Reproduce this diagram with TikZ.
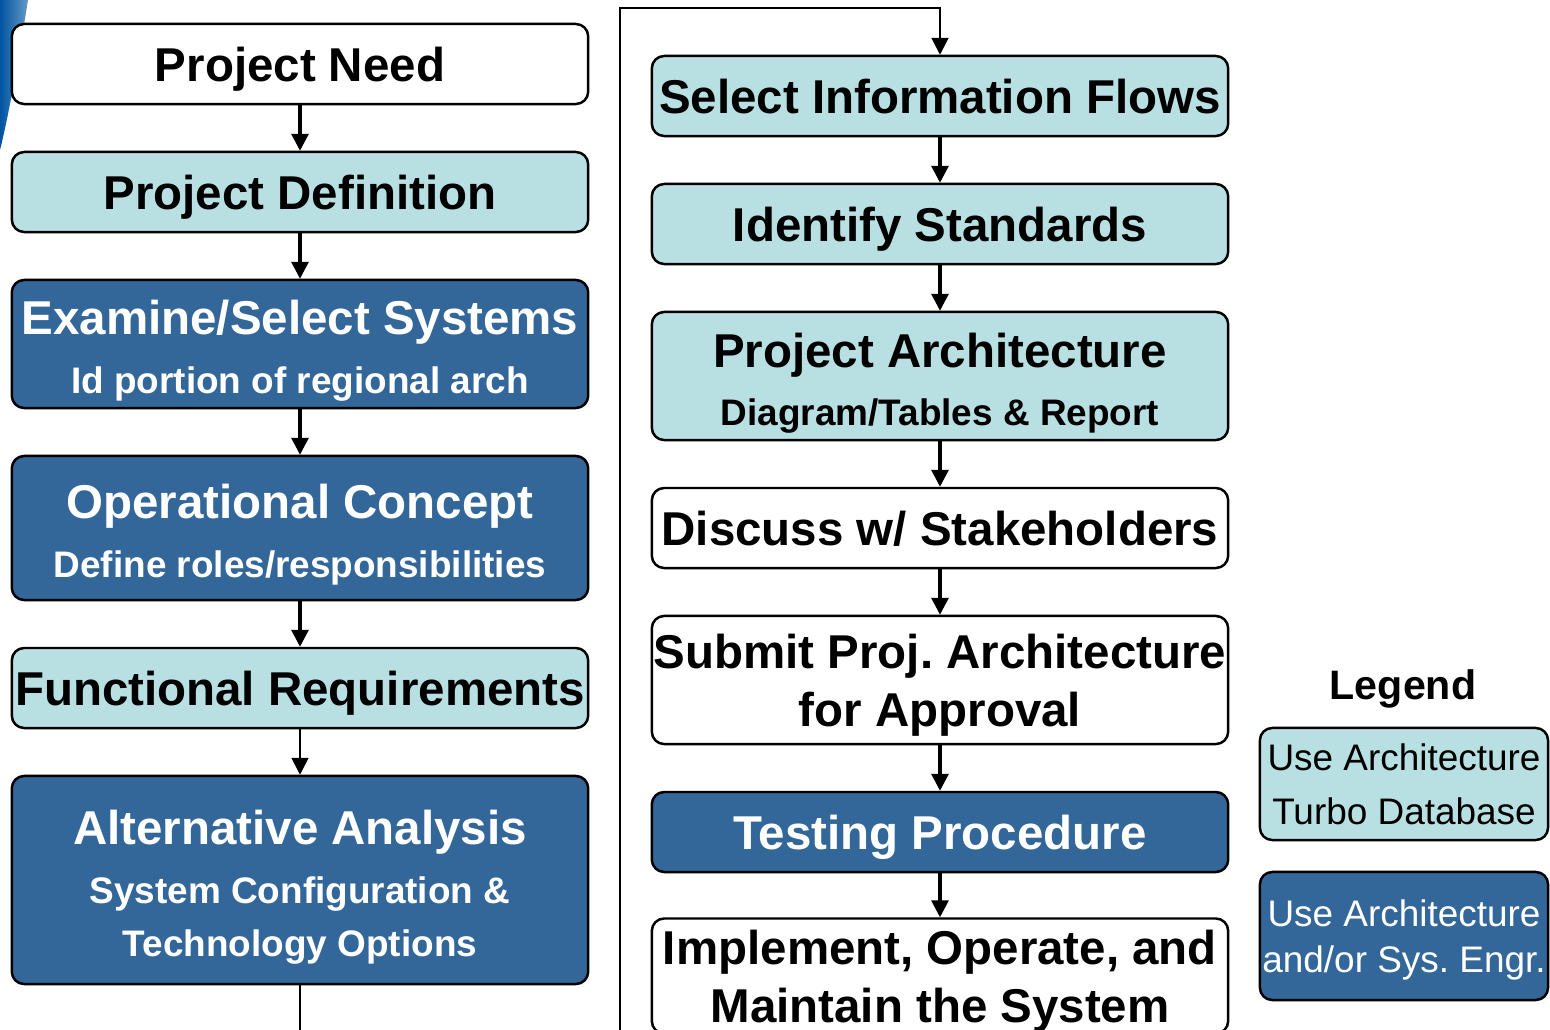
\documentclass[tikz,border=0pt]{standalone}
\usepackage{fontspec}
\setmainfont{Liberation Sans}
\usetikzlibrary{arrows.meta}
\definecolor{lightbox}{RGB}{184,224,226}
\definecolor{darkbox}{RGB}{52,103,153}
\definecolor{swoosh}{RGB}{0,84,160}
\frenchspacing

\begin{document}
\begin{tikzpicture}[x=0.01cm,y=-0.01cm]
        \tikzset{box/.style = {draw, line width=0.7pt, rounded corners=3.5pt, minimum width=5.76cm, inner sep=0pt, align=center, font=\bfseries\fontsize{13.5}{16.5}\selectfont,
            execute at begin node={\rule{0pt}{13.2pt}}, execute at end node={\rule[-3pt]{0pt}{0pt}}}}
        \tikzset{twolevel/.style = {font=\bfseries\fontsize{13.5}{16.8}\selectfont}}
        \tikzset{plainbox/.style = {box, fill=white}}
        \tikzset{lightstep/.style = {box, fill=lightbox}}
        \tikzset{darkstep/.style = {box, fill=darkbox, text=white}}
        \tikzset{legbox/.style = {draw, line width=0.7pt, rounded corners=3.5pt, minimum width=2.88cm, inner sep=0pt, align=center}}
        \tikzset{edge/.style = {-{Triangle[length=4.8pt,width=4.8pt]}, line width=0.9pt}}
        \tikzset{backline/.style = {-{Triangle[length=4.8pt,width=4.8pt]}, line width=0.6pt}}
        \newcommand{\subtxt}[1]{{\fontsize{10.5}{12}\selectfont #1}}
        \newcommand{\topstrut}[1]{\rule{0pt}{#1}}
        \newcommand{\botstrut}{\rule[-3pt]{0pt}{0pt}}
        \useasboundingbox (0,0) rectangle (1550,1030);
        \clip (0,0) rectangle (1550,1030);
        % corner swoosh
        \shade[left color=swoosh, right color=swoosh!60] (0,0) -- (28,0) .. controls (20,50) and (10,110) .. (0,150) -- cycle;
        % left column
        \node[plainbox, minimum height=0.8cm] (need) at (300,64) {Project Need};
        \node[lightstep, minimum height=0.8cm] (def) at (300,192) {Project Definition};
        \node[darkstep, twolevel, minimum height=1.28cm] (exam) at (300,344) {\topstrut{14.5pt}Examine/Select Systems\\\subtxt{Id portion of regional arch}\botstrut};
        \node[darkstep, twolevel, minimum height=1.44cm] (opcon) at (300,528) {\topstrut{14.5pt}Operational Concept\\\subtxt{Define roles/responsibilities}\botstrut};
        \node[lightstep, minimum height=0.8cm] (func) at (300,688) {Functional Requirements};
        \node[darkstep, twolevel, minimum height=2.08cm, font=\bfseries\fontsize{13.5}{15.1}\selectfont] (alt) at (300,880) {\topstrut{14.5pt}Alternative Analysis\\[1.7pt]\subtxt{System Configuration \&}\\\subtxt{Technology Options}\botstrut};
        % right column
        \node[lightstep, minimum height=0.8cm] (flows) at (940,96) {Select Information Flows};
        \node[lightstep, minimum height=0.8cm] (stds) at (940,224) {Identify Standards};
        \node[lightstep, twolevel, minimum height=1.28cm, font=\bfseries\fontsize{13.5}{16.5}\selectfont] (parch) at (940,376) {\topstrut{14.5pt}Project Architecture\\\subtxt{Diagram/Tables \& Report}\botstrut};
        \node[plainbox, minimum height=0.8cm] (disc) at (940,528) {Discuss w/ Stakeholders};
        \node[plainbox, minimum height=1.28cm] (submit) at (940,680) {\topstrut{13.2pt}Submit Proj. Architecture\\for Approval\botstrut};
        \node[darkstep, minimum height=0.8cm] (test) at (940,832) {Testing Procedure};
        \node[plainbox, minimum height=1.12cm] (impl) at (940,976) {\topstrut{13.2pt}Implement, Operate, and\\Maintain the System\botstrut};
        % legend
        \node[font=\bfseries\fontsize{11.7}{14}\selectfont] (legtitle) at (1403,689) {Legend};
        \node[legbox, fill=lightbox, minimum height=1.12cm, font=\fontsize{10.5}{15.4}\selectfont] (leglight) at (1404,784) {Use Architecture\\Turbo Database};
        \node[legbox, fill=darkbox, text=white, minimum height=1.28cm, font=\fontsize{10.5}{13}\selectfont] (legdark) at (1404,936) {\topstrut{9.9pt}Use Architecture\\and/or Sys. Engr.};
        % edges
        \draw[edge] (need) -- (def);
        \draw[edge] (def) -- (exam);
        \draw[edge] (exam) -- (opcon);
        \draw[edge] (opcon) -- (func);
        \draw[backline] (func) -- (alt);
        \coordinate (turnlow) at (620,1060);
        \coordinate (turnhigh) at (940,8);
        \draw[backline] (alt.south) |- (turnlow) |- (turnhigh) -- (flows);
        \draw[edge] (flows) -- (stds);
        \draw[edge] (stds) -- (parch);
        \draw[edge] (parch) -- (disc);
        \draw[edge] (disc) -- (submit);
        \draw[edge] (submit) -- (test);
        \draw[edge] (test) -- (impl);
\end{tikzpicture}
\end{document}
